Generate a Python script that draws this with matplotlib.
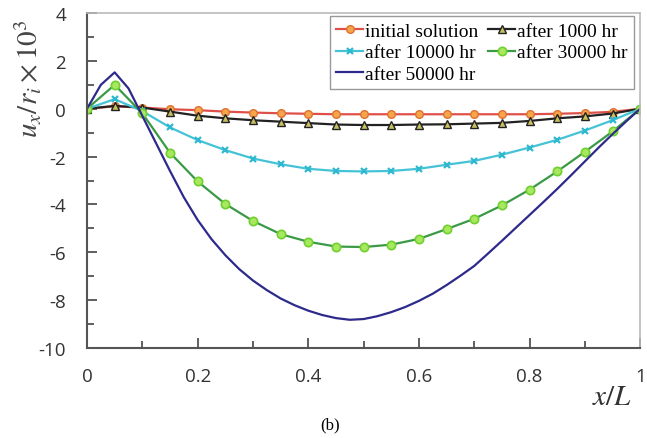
import matplotlib

matplotlib.use("Agg")
import matplotlib.pyplot as plt
from matplotlib.ticker import MultipleLocator

plt.rcParams["mathtext.fontset"] = "stix"
plt.rcParams["axes.unicode_minus"] = False

# x positions of the marked series (every 0.05 of x/L)
x_pts = [0.0, 0.05, 0.1, 0.15, 0.2, 0.25, 0.3, 0.35, 0.4, 0.45, 0.5,
         0.55, 0.6, 0.65, 0.7, 0.75, 0.8, 0.85, 0.9, 0.95, 1.0]

initial = [0.0, 0.10, 0.05, -0.02, -0.06, -0.12, -0.16, -0.19, -0.21, -0.23, -0.23,
           -0.23, -0.23, -0.23, -0.23, -0.23, -0.23, -0.21, -0.18, -0.13, 0.0]
after_1000 = [0.0, 0.12, 0.05, -0.12, -0.29, -0.40, -0.48, -0.54, -0.60, -0.66, -0.68,
              -0.68, -0.66, -0.65, -0.62, -0.59, -0.51, -0.40, -0.32, -0.20, 0.0]
after_10000 = [0.0, 0.40, -0.10, -0.78, -1.31, -1.73, -2.08, -2.32, -2.51, -2.60, -2.62,
               -2.60, -2.51, -2.34, -2.18, -1.92, -1.62, -1.30, -0.91, -0.48, 0.0]
after_30000 = [0.0, 1.00, -0.19, -1.84, -3.04, -3.98, -4.69, -5.24, -5.56, -5.76, -5.78,
               -5.68, -5.44, -5.03, -4.60, -4.04, -3.38, -2.62, -1.80, -0.95, 0.0]

# unmarked 50000 hr curve, read every 0.025
x_fine = [0.0, 0.025, 0.05, 0.075, 0.1, 0.125, 0.15, 0.175, 0.2, 0.225, 0.25,
          0.275, 0.3, 0.325, 0.35, 0.375, 0.4, 0.425, 0.45, 0.475, 0.5,
          0.525, 0.55, 0.575, 0.6, 0.625, 0.65, 0.675, 0.7, 0.725, 0.75,
          0.775, 0.8, 0.825, 0.85, 0.875, 0.9, 0.925, 0.95, 0.975, 1.0]
after_50000 = [0.0, 1.0, 1.52, 0.85, -0.30, -1.45, -2.60, -3.70, -4.65, -5.45, -6.12,
               -6.70, -7.18, -7.58, -7.93, -8.21, -8.44, -8.62, -8.75, -8.82, -8.79,
               -8.67, -8.50, -8.29, -8.03, -7.73, -7.37, -6.98, -6.57, -6.05, -5.52,
               -4.98, -4.44, -3.90, -3.35, -2.78, -2.20, -1.62, -1.06, -0.52, 0.0]

x_ticks = [0, 0.2, 0.4, 0.6, 0.8, 1]
x_tick_labels = ["0", "0.2", "0.4", "0.6", "0.8", "1"]
y_ticks = [-10, -8, -6, -4, -2, 0, 2, 4]

fig = plt.figure(figsize=(6.47, 4.39), dpi=100)
ax = fig.add_axes([0.1345, 0.205, 0.855, 0.763])

lines = {}
lines["initial"], = ax.plot(x_pts, initial, color="#E0504A", lw=1.6, marker="o", ms=5.5,
                            mfc="#F5A54A", mec="#E07030", mew=1.0, label="initial solution")
lines["1000"], = ax.plot(x_pts, after_1000, color="#222222", lw=1.6, marker="^", ms=5.5,
                         mfc="#C8C060", mec="#222222", mew=1.0, label="after 1000 hr")
lines["10000"], = ax.plot(x_pts, after_10000, color="#45C3D6", lw=1.6, marker="x", ms=5,
                          mec="#30B8D0", mew=1.6, label="after 10000 hr")
lines["30000"], = ax.plot(x_pts, after_30000, color="#3A9A45", lw=1.6, marker="o", ms=6,
                          mfc="#A8E860", mec="#70D030", mew=1.2, label="after 30000 hr")
lines["50000"], = ax.plot(x_fine, after_50000, color="#2E2A8C", lw=1.6, label="after 50000 hr")

ax.set_xlim(0, 1)
ax.set_ylim(-10, 4)
ax.set_xticks(x_ticks)
ax.set_xticklabels(x_tick_labels)
ax.set_yticks(y_ticks)
ax.xaxis.set_minor_locator(MultipleLocator(0.1))
ax.yaxis.set_minor_locator(MultipleLocator(1))
ax.tick_params(which="both", direction="in", colors="#444444", labelcolor="#333333",
               labelsize=13.5)
ax.tick_params(which="major", length=7, width=1.2)
ax.tick_params(which="minor", length=5, width=1.2)
ax.tick_params(axis="x", pad=14)
ax.tick_params(axis="y", pad=15)
for lab in ax.get_xticklabels() + ax.get_yticklabels():
    lab.set_family("Open Sans")

for side in ("left", "bottom"):
    ax.spines[side].set_color("#555555")
    ax.spines[side].set_linewidth(1.5)
for side in ("top", "right"):
    ax.spines[side].set_color("#BBBBBB")
    ax.spines[side].set_linewidth(1.2)

# row-wise order for a 2-column legend: column 1 then column 2
order = ["initial", "10000", "50000", "1000", "30000"]
handles = [lines[k] for k in order]
leg = ax.legend(handles, [h.get_label() for h in handles],
                loc="upper right", bbox_to_anchor=(0.988, 0.99), borderaxespad=0,
                ncol=2, fancybox=False, framealpha=1, edgecolor="#999999",
                prop={"family": "Liberation Serif", "size": 14},
                handlelength=1.4, handletextpad=0.1, columnspacing=0.5,
                labelspacing=0.2, borderpad=0.3)
leg.get_frame().set_linewidth(1.0)

fig.text(0.043, 0.82, r"$u_x/r_i\times10^3$", rotation=90, ha="center", va="center",
         fontsize=21, color="#444444")
fig.text(0.946, 0.096, r"$x/L$", ha="center", va="center", fontsize=21,
         color="#333333")
fig.text(0.51, 0.03, "(b)", ha="center", va="center", fontsize=12,
         family="Liberation Serif")

fig.savefig("out.png", dpi=100)
